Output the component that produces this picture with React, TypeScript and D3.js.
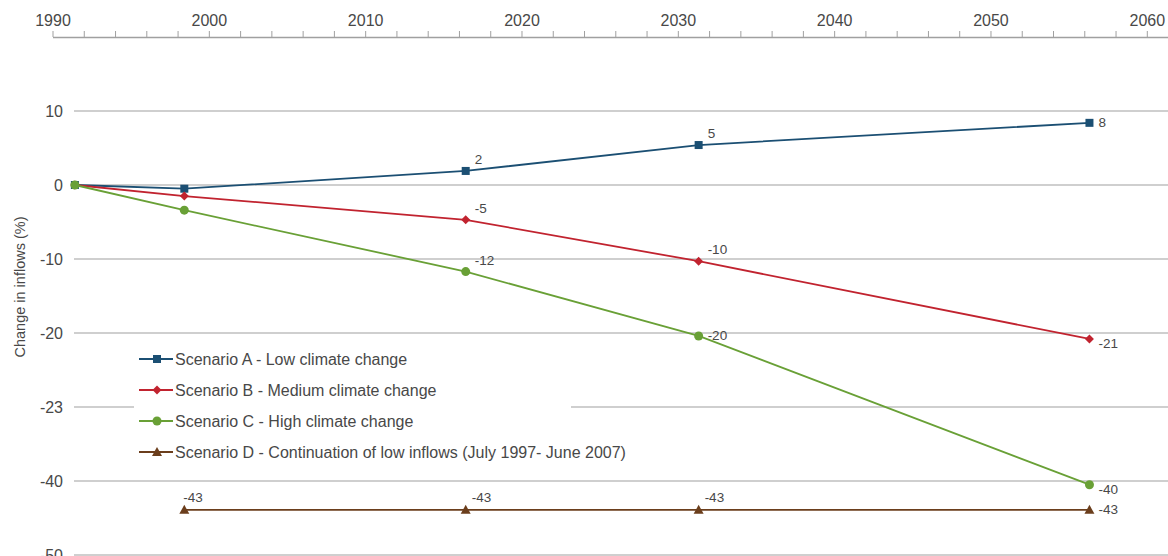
import React from "react";
import * as d3 from "d3";

const years = [1991.4, 1998.4, 2016.4, 2031.3, 2056.3];
const seriesA = [0, -0.5, 1.9, 5.4, 8.4];
const seriesB = [0, -1.5, -4.7, -10.3, -20.8];
const seriesC = [0, -3.4, -11.7, -20.4, -40.5];
const seriesD = [null, -43.9, -43.9, -43.9, -43.9];
const labelsA = ["", "", "2", "5", "8"];
const labelsB = ["", "", "-5", "-10", "-21"];
const labelsC = ["", "", "-12", "-20", "-40"];
const labelsD = ["", "-43", "-43", "-43", "-43"];
const yTickValues = [10, 0, -10, -20, -30, -40, -50];
const yTickLabels = ["10", "0", "-10", "-20", "-23", "-40", "-50"];
const xTickLabels = [1990, 2000, 2010, 2020, 2030, 2040, 2050, 2060];
const legendNames = [
  "Scenario A - Low climate change",
  "Scenario B - Medium climate change",
  "Scenario C - High climate change",
  "Scenario D - Continuation of low inflows (July 1997- June 2007)",
];

const W = 1168;
const H = 556;
const FONT = "'Liberation Sans', Arial, sans-serif";
const TXT = "#484848";
const GRID = "#a0a0a0";

type Placement = "ur" | "r" | "dr" | "u";

const series = [
  { vals: seriesA, labels: labelsA, color: "#1b4f73", marker: "square", place: ["", "", "ur", "ur", "r"] as Placement[] },
  { vals: seriesB, labels: labelsB, color: "#c1232f", marker: "diamond", place: ["", "", "ur", "ur", "dr"] as Placement[] },
  { vals: seriesC, labels: labelsC, color: "#69a036", marker: "circle", place: ["", "", "ur", "r", "dr"] as Placement[] },
  { vals: seriesD, labels: labelsD, color: "#6b3e1c", marker: "triangle", place: ["", "u", "u", "u", "r"] as Placement[] },
];

function Marker({ type, x, y, color }: { type: string; x: number; y: number; color: string }) {
  if (type === "square") return <rect x={x - 4} y={y - 4} width={8} height={8} fill={color} />;
  if (type === "diamond")
    return <path d={`M${x},${y - 4.5}L${x + 4.5},${y}L${x},${y + 4.5}L${x - 4.5},${y}Z`} fill={color} />;
  if (type === "circle") return <circle cx={x} cy={y} r={4.5} fill={color} />;
  return <path d={`M${x},${y - 5}L${x + 5},${y + 4}L${x - 5},${y + 4}Z`} fill={color} />;
}

export default function App() {
  const x = d3.scaleLinear().domain([1990, 2060]).range([53, 1147.3]);
  const y = d3.scaleLinear().domain([10, -50]).range([111, 555]);
  const minorTicks = d3.range(1990, 2062, 2);
  const line = d3
    .line<[number, number | null]>()
    .defined((d) => d[1] !== null)
    .x((d) => x(d[0]))
    .y((d) => y(d[1] as number));

  return (
    <svg width={W} height={H} style={{ position: "absolute", left: 0, top: 0 }} fontFamily={FONT}>
      {/* top axis */}
      <line x1={x(1990)} x2={W} y1={37.5} y2={37.5} stroke={GRID} strokeWidth={1.3} />
      {minorTicks.map((t) => (
        <line key={t} x1={x(t)} x2={x(t)} y1={31} y2={37} stroke={GRID} strokeWidth={1} />
      ))}
      {xTickLabels.map((t) => (
        <text key={t} x={x(t)} y={26} textAnchor="middle" fontSize={16} fill={TXT}>
          {t}
        </text>
      ))}
      {/* gridlines */}
      {yTickValues.map((v, i) => (
        <g key={v}>
          <line x1={74} x2={W} y1={y(v)} y2={y(v)} stroke={GRID} strokeWidth={1.2} />
          <text x={63} y={y(v) + 5.5} textAnchor="end" fontSize={16} fill={TXT}>
            {yTickLabels[i]}
          </text>
        </g>
      ))}
      <text
        transform={`translate(25,${(y(-10) + y(-20)) / 2 - 9}) rotate(-90)`}
        textAnchor="middle"
        fontSize={14.5}
        fill={TXT}
      >
        Change in inflows (%)
      </text>
      {/* lines */}
      {series.map((s, si) => (
        <path
          key={si}
          d={line(years.map((yr, i) => [yr, s.vals[i]]) as [number, number | null][]) || ""}
          fill="none"
          stroke={s.color}
          strokeWidth={1.8}
        />
      ))}
      {series.map((s, si) =>
        years.map((yr, i) =>
          s.vals[i] === null ? null : (
            <Marker key={`${si}-${i}`} type={s.marker} x={x(yr)} y={y(s.vals[i] as number)} color={s.color} />
          )
        )
      )}
      {/* data labels */}
      {series.map((s, si) =>
        years.map((yr, i) => {
          const lab = s.labels[i];
          if (!lab) return null;
          const px = x(yr);
          const py = y(s.vals[i] as number);
          const p = s.place[i];
          let tx = px + 9;
          let ty = py - 7;
          if (p === "r") ty = py + 4.5;
          if (p === "dr") ty = py + 9;
          if (p === "u") {
            tx = px + (i === 1 ? -1 : 6);
            ty = py - 8;
          }
          return (
            <text key={`l${si}-${i}`} x={tx} y={ty} fontSize={13.5} fill={TXT}>
              {lab}
            </text>
          );
        })
      )}
      {/* legend */}
      <rect x={134} y={342} width={437} height={124} fill="#fff" />
      {series.map((s, i) => {
        const ly = 359 + i * 31;
        return (
          <g key={i}>
            <line x1={139} x2={173} y1={ly} y2={ly} stroke={s.color} strokeWidth={1.8} />
            <Marker type={s.marker} x={157} y={ly} color={s.color} />
            <text x={175} y={ly + 5.5} fontSize={16} fill={TXT}>
              {legendNames[i]}
            </text>
          </g>
        );
      })}
    </svg>
  );
}
